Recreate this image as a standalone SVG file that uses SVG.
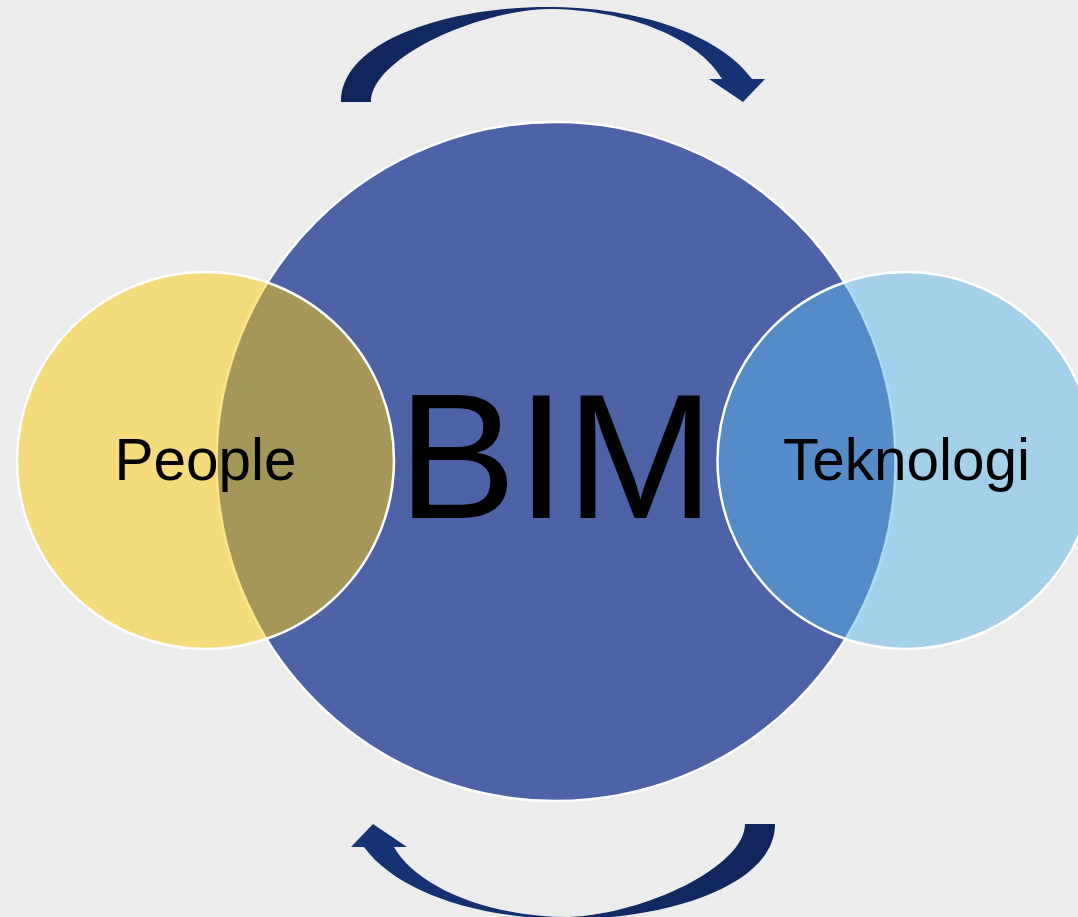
<svg xmlns="http://www.w3.org/2000/svg" xmlns:xlink="http://www.w3.org/1999/xlink" width="1078" height="917" viewBox="0 0 1078 917">
  <style>
    .lbl { font-family: "Liberation Sans", Arial, sans-serif; fill: #000; text-anchor: middle; }
    .ring { stroke: #ffffff; stroke-width: 2.5; }
  </style>
  <defs>
    <linearGradient id="arrowGrad" gradientUnits="userSpaceOnUse" x1="341" y1="0" x2="765" y2="0">
      <stop offset="0" stop-color="#10255a"/>
      <stop offset="1" stop-color="#163477"/>
    </linearGradient>
    <path id="curvedArrow" fill="url(#arrowGrad)" d="M341,102 C341,40 450,7 547,7 C640,7 720,35 752,79 L765,79 L743,102 L709,79 L722,79 C700,40 630,9 547,9 C470,12 371,60 371,102 Z"/>
  </defs>
  <rect width="1078" height="917" fill="#ececec"/>

  <g id="connectors">
    <use id="arrow-top" xlink:href="#curvedArrow"/>
    <use id="arrow-bottom" xlink:href="#curvedArrow" transform="rotate(180 558 463)"/>
  </g>

  <g id="node-bim">
    <circle class="ring" cx="556" cy="461.5" r="339.5" fill="#4e62a8"/>
    <text class="lbl" x="556" y="518" font-size="178">BIM</text>
  </g>

  <g id="node-people">
    <circle cx="205.5" cy="460.5" r="188.5" fill="#fcca0a" fill-opacity="0.5" stroke="#ffffff" stroke-width="2.5"/>
    <text class="lbl" x="205.5" y="480" font-size="58.5">People</text>
  </g>

  <g id="node-teknologi">
    <circle cx="906" cy="460.5" r="188.5" fill="#5cb4e7" fill-opacity="0.5" stroke="#ffffff" stroke-width="2.5"/>
    <text class="lbl" x="906.5" y="480" font-size="58.5">Teknologi</text>
  </g>
</svg>
